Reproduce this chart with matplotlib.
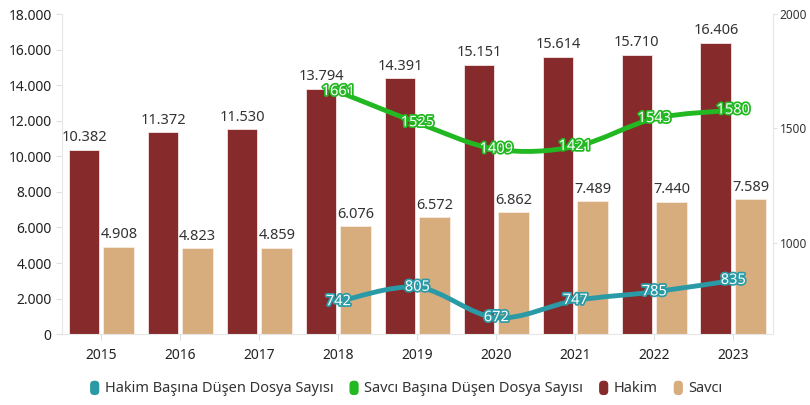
import matplotlib.pyplot as plt
import matplotlib.patheffects as pe
from matplotlib.path import Path
from matplotlib.patches import PathPatch, FancyBboxPatch
from matplotlib.legend_handler import HandlerPatch
import numpy as np

plt.rcParams['font.family'] = ['Noto Sans', 'DejaVu Sans']

years = ['2015', '2016', '2017', '2018', '2019', '2020', '2021', '2022', '2023']
hakim = [10382, 11372, 11530, 13794, 14391, 15151, 15614, 15710, 16406]
savci = [4908, 4823, 4859, 6076, 6572, 6862, 7489, 7440, 7589]
line_years = ['2018', '2019', '2020', '2021', '2022', '2023']
hakim_dosya = [742, 805, 672, 747, 785, 835]
savci_dosya = [1661, 1525, 1409, 1421, 1543, 1580]

C_HAKIM = '#862a2b'
C_SAVCI = '#d8ad7d'
C_TEAL = '#2a9ba6'
C_GREEN = '#22b822'


def fmt(v):
    return f'{v:,}'.replace(',', '.')


def smooth_path(xs, ys):
    # Catmull-Rom curve through the points, drawn as cubic bezier
    pts = np.column_stack([xs, ys]).astype(float)
    verts = [pts[0]]
    codes = [Path.MOVETO]
    n = len(pts)
    for i in range(n - 1):
        p0 = pts[i - 1] if i > 0 else pts[i]
        p1 = pts[i]
        p2 = pts[i + 1]
        p3 = pts[i + 2] if i + 2 < n else pts[i + 1]
        c1 = p1 + (p2 - p0) / 6
        c2 = p2 - (p3 - p1) / 6
        verts += [c1, c2, p2]
        codes += [Path.CURVE4] * 3
    return Path(verts, codes)


fig = plt.figure(figsize=(8.1, 4.05), dpi=100)
ax = fig.add_axes([0.0765, 0.175, 0.8775, 0.79])
x = np.arange(len(years))
w = 0.39
off = 0.22
b1 = ax.bar(x - off, hakim, w, color=C_HAKIM, edgecolor='#f3e6e6', linewidth=0.6, label='Hakim')
b2 = ax.bar(x + off, savci, w, color=C_SAVCI, edgecolor='#f7ece0', linewidth=0.6, label='Savcı')
for rect, v in zip(list(b1) + list(b2), hakim + savci):
    ax.text(rect.get_x() + rect.get_width() / 2, v + 250, fmt(v), ha='center', va='bottom',
            fontsize=10.5, color='#333333')

ax.set_xlim(-0.5, len(years) - 0.5)
ax.set_ylim(0, 18000)
ax.set_yticks(range(0, 18001, 2000))
ax.set_yticklabels([fmt(v) for v in range(0, 18001, 2000)])
ax.set_xticks(x)
ax.set_xticklabels(years)
for s in ['top', 'right']:
    ax.spines[s].set_visible(False)
for s in ['left', 'bottom']:
    ax.spines[s].set_color('#e6e6e6')
ax.tick_params(axis='both', colors='#e0e0e0', labelcolor='#222222', labelsize=10, length=4)
ax.tick_params(axis='x', pad=6)

ax2 = ax.twinx()
ax2.set_ylim(600, 2000)
ax2.set_yticks([1000, 1500, 2000])
for s in ['top', 'left', 'bottom']:
    ax2.spines[s].set_visible(False)
ax2.spines['right'].set_color('#e6e6e6')
ax2.tick_params(axis='y', colors='#e0e0e0', labelcolor='#333333', labelsize=8.5, length=3, pad=2)

lx = np.array([years.index(y) for y in line_years])
for vals, col in [(hakim_dosya, C_TEAL), (savci_dosya, C_GREEN)]:
    patch = PathPatch(smooth_path(lx, vals), facecolor='none', edgecolor=col, lw=3.5,
                      capstyle='round', zorder=4)
    ax2.add_patch(patch)
    for xi, v in zip(lx, vals):
        ax2.text(xi, v, str(v), ha='center', va='center', fontsize=10.5, color='white',
                 fontweight='bold', zorder=5,
                 path_effects=[pe.withStroke(linewidth=2.5, foreground=col)])


class RoundHandler(HandlerPatch):
    def create_artists(self, legend, orig_handle, xdescent, ydescent, width, height, fontsize, trans):
        p = FancyBboxPatch((xdescent + 2, ydescent - 2), height * 0.9, height + 3,
                           boxstyle='round,pad=0,rounding_size=3',
                           facecolor=orig_handle.get_facecolor(), edgecolor='none', transform=trans)
        return [p]


handles = [plt.Rectangle((0, 0), 1, 1, color=c) for c in [C_TEAL, C_GREEN, C_HAKIM, C_SAVCI]]
labels = ['Hakim Başına Düşen Dosya Sayısı', 'Savcı Başına Düşen Dosya Sayısı', 'Hakim', 'Savcı']
fig.legend(handles, labels, loc='center', bbox_to_anchor=(0.5, 0.04), ncol=4, frameon=False,
           fontsize=10.5, handler_map={plt.Rectangle: RoundHandler()}, handlelength=0.9,
           handletextpad=0.3, columnspacing=0.9, labelcolor='#333333')

fig.savefig('out.png', dpi=100)
